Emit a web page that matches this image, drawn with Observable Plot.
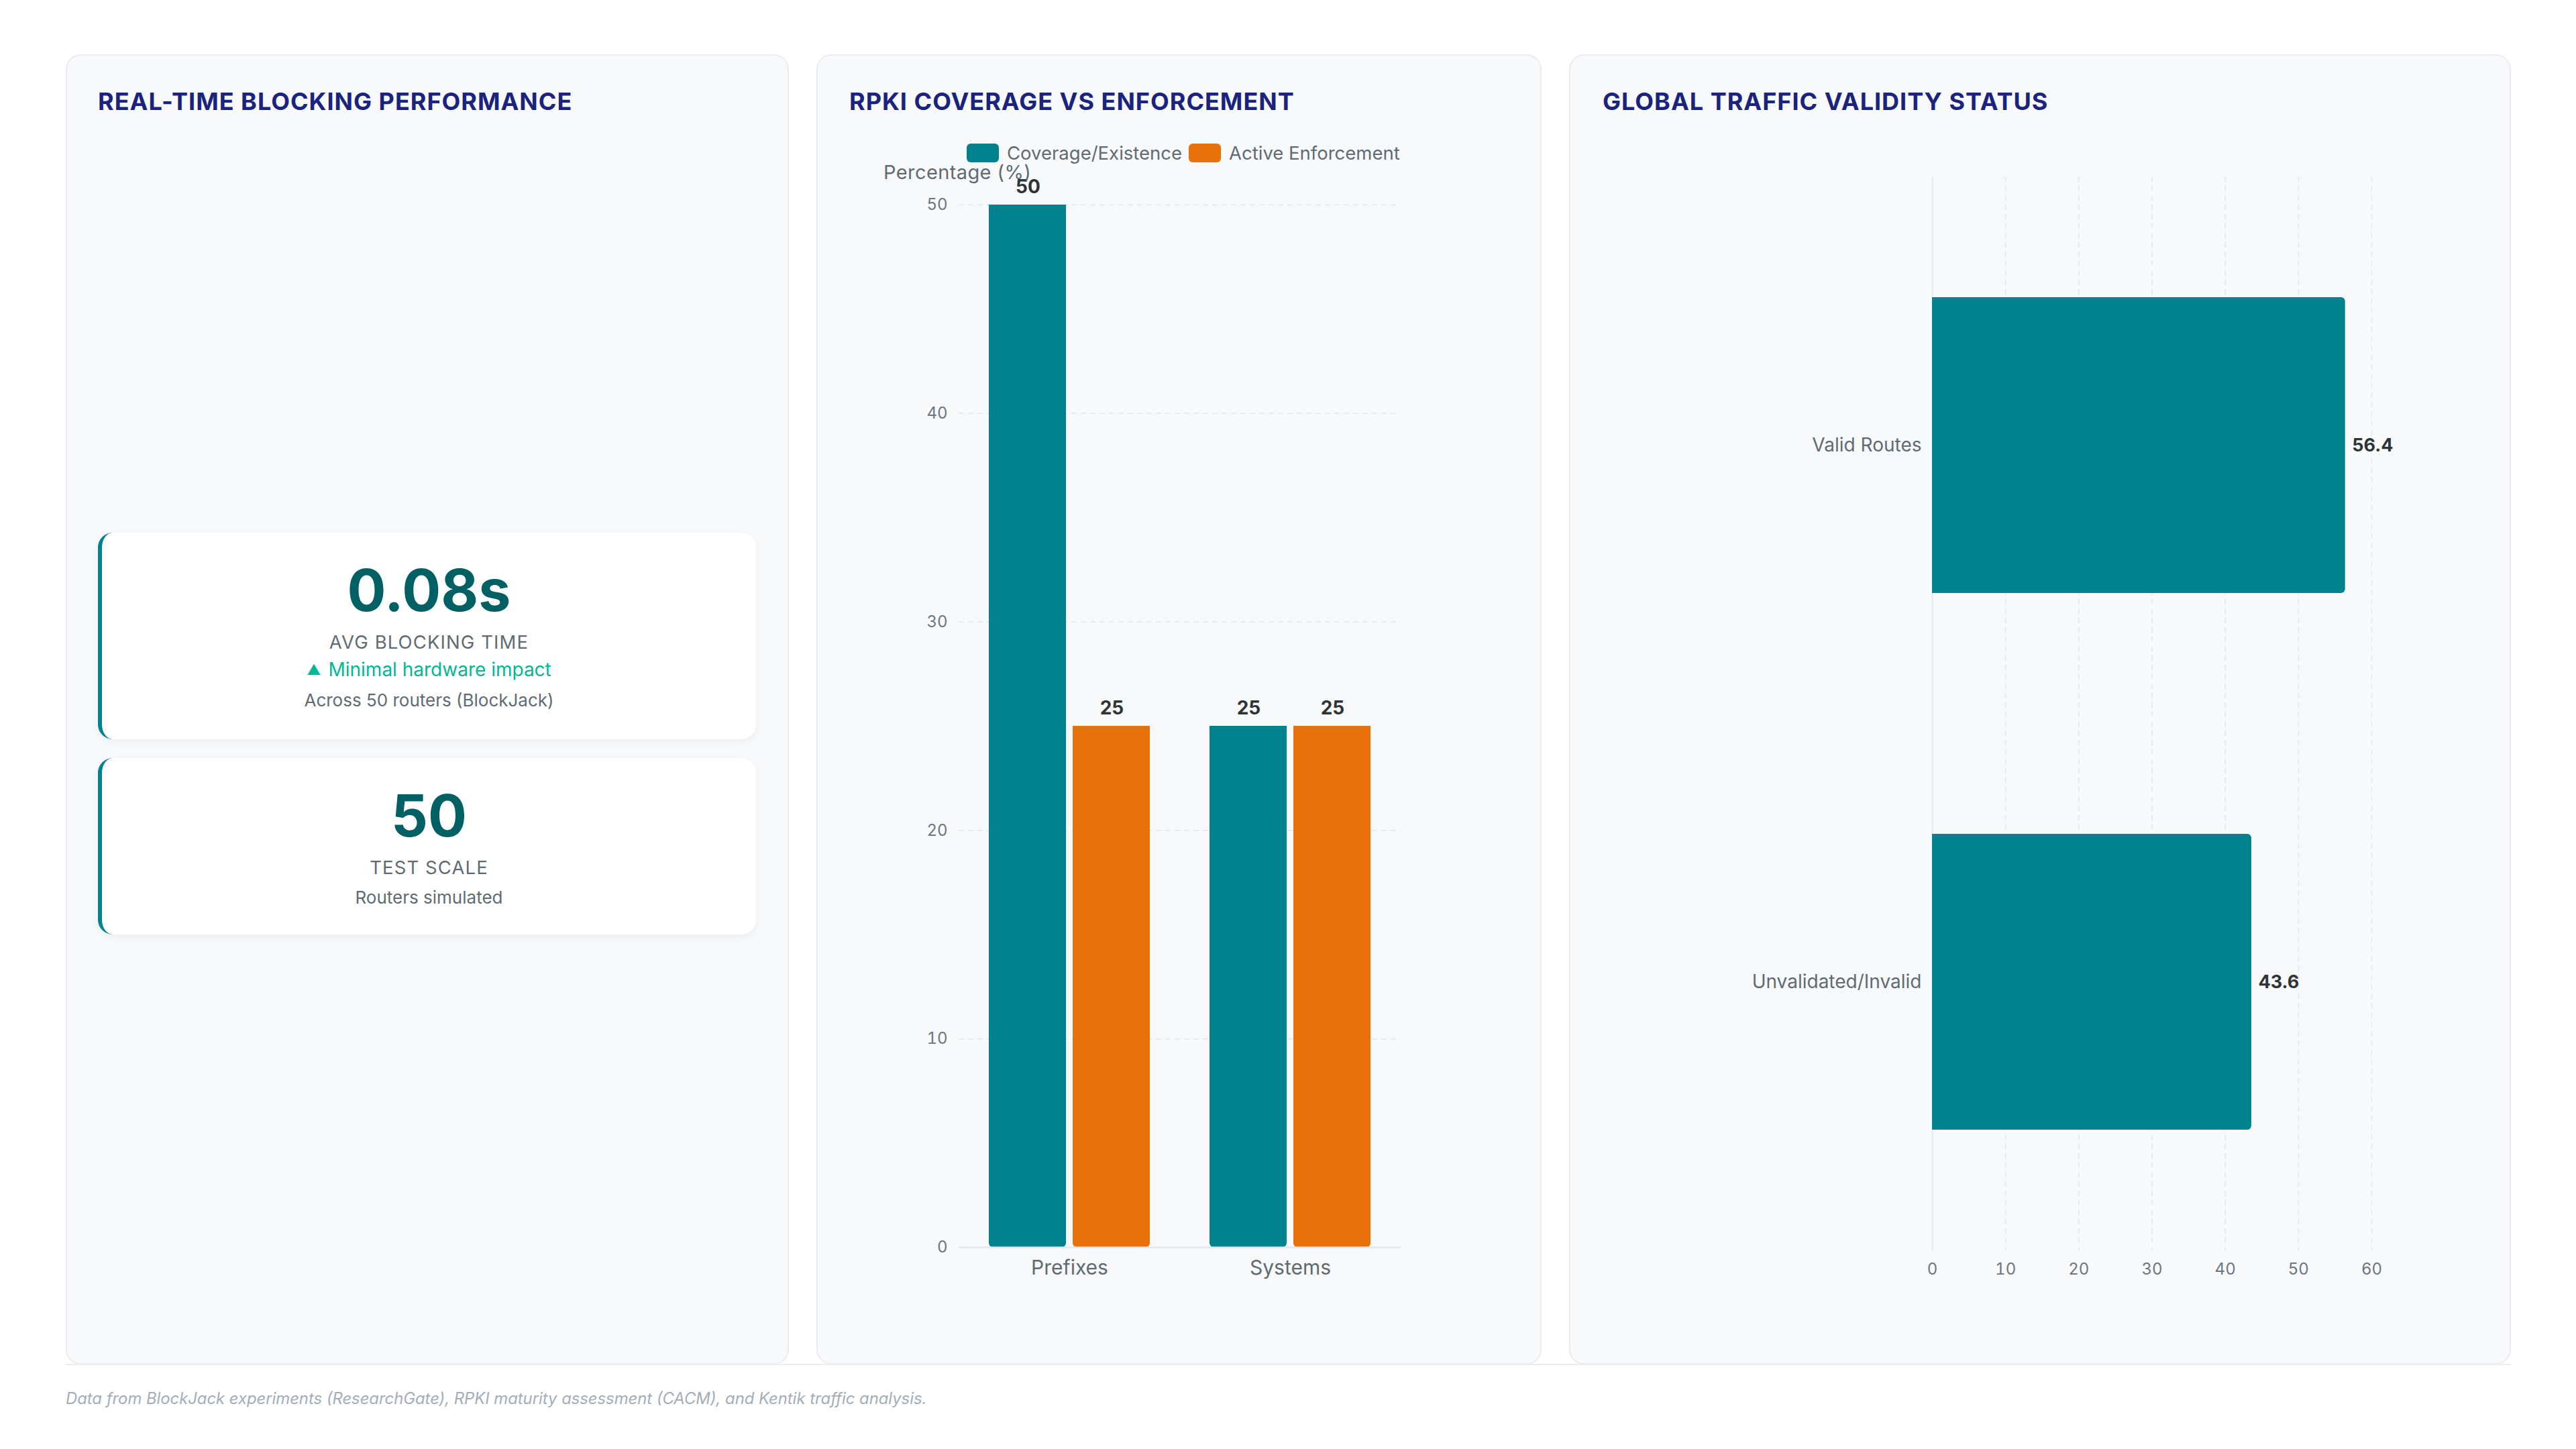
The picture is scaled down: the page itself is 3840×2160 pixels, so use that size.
<!DOCTYPE html>
<html>
<head>
<meta charset="utf-8">
<script src="https://cdn.jsdelivr.net/npm/d3@7"></script>
<script src="https://cdn.jsdelivr.net/npm/@observablehq/plot@0.6"></script>
<style>
  html, body { margin: 0; padding: 0; background: #ffffff; }
  body { width: 3840px; height: 2160px; position: relative; overflow: hidden; font-family: Inter, "Noto Sans", sans-serif; }
  .abs { position: absolute; }
  .panel { position: absolute; background: #f8f9fb; border: 2px solid #eaecef; border-radius: 22px; box-sizing: border-box; }
  .title { position: absolute; font-size: 36px; line-height: 36px; font-weight: 700; color: #1a237e; white-space: nowrap; letter-spacing: 1px; }
  .card { position: absolute; background: #ffffff; border-left: 6px solid #00838f; border-radius: 22px; box-sizing: border-box; box-shadow: 0 4px 14px rgba(0,0,0,0.05); text-align: center; }
  .kval { font-size: 86px; line-height: 86px; font-weight: 700; color: #006064; }
  .klabel { font-size: 27.5px; line-height: 36px; color: #5f6b73; text-transform: uppercase; letter-spacing: 1.1px; }
  .ktrend { font-size: 28px; line-height: 36px; color: #00b894; }
  .ktrend .tri { font-size: 21px; vertical-align: 2px; margin-right: 11px; }
  .knote { font-size: 26px; line-height: 36px; color: #5f6b73; }
  .legend { position: absolute; display: flex; align-items: center; height: 28px; font-size: 27.5px; line-height: 28px; color: #5f6b73; white-space: nowrap; }
  .sw { width: 48px; height: 28px; border-radius: 6px; display: inline-block; }
  .caption { position: absolute; font-size: 23.8px; line-height: 24px; font-style: italic; color: #a3adb8; white-space: nowrap; }
  .chart svg { overflow: visible; }
</style>
</head>
<body>
<script>
// ---------- data ----------
const panelTitles = ["REAL-TIME BLOCKING PERFORMANCE", "RPKI COVERAGE VS ENFORCEMENT", "GLOBAL TRAFFIC VALIDITY STATUS"];

const kpiValues = ["0.08s", "50"];
const kpiLabels = ["AVG BLOCKING TIME", "TEST SCALE"];
const kpiTrendMarks = ["▲", null];
const kpiTrends = ["Minimal hardware impact", null];
const kpiNotes = ["Across 50 routers (BlockJack)", "Routers simulated"];

const rpkiCategories = ["Prefixes", "Systems"];
const rpkiSeries = ["Coverage/Existence", "Active Enforcement"];
const coverageValues = [50, 25];
const enforcementValues = [25, 25];
const rpkiColors = ["#00838f", "#e8710a"];
const rpkiTicks = [0, 10, 20, 30, 40, 50];
const rpkiAxisLabel = "Percentage (%)";

const trafficCategories = ["Valid Routes", "Unvalidated/Invalid"];
const trafficValues = [56.4, 43.6];
const trafficTicks = [0, 10, 20, 30, 40, 50, 60];
const trafficColor = "#00838f";

const captionText = "Data from BlockJack experiments (ResearchGate), RPKI maturity assessment (CACM), and Kentik traffic analysis.";

// ---------- layout helpers ----------
function el(tag, cls, style, text) {
  const e = document.createElement(tag);
  if (cls) e.className = cls;
  if (style) Object.assign(e.style, style);
  if (text != null) e.textContent = text;
  document.body.appendChild(e);
  return e;
}

// panels
el("div", "panel", {left: "98px", top: "81px", width: "1078px", height: "1953px"});
el("div", "panel", {left: "1217px", top: "81px", width: "1081px", height: "1953px"});
el("div", "panel", {left: "2339px", top: "81px", width: "1404px", height: "1953px"});
el("div", "abs", {left: "98px", top: "2033px", width: "3645px", height: "2px", background: "#eaecef"});

// titles
el("div", "title", {left: "146px", top: "133px"}, panelTitles[0]);
el("div", "title", {left: "1266px", top: "133px"}, panelTitles[1]);
el("div", "title", {left: "2389px", top: "133px"}, panelTitles[2]);

// KPI cards
function card(i, top, height) {
  const c = el("div", "card", {left: "146px", top: top + "px", width: "981px", height: height + "px", paddingTop: "43px"});
  const v = document.createElement("div"); v.className = "kval"; v.textContent = kpiValues[i]; c.appendChild(v);
  const l = document.createElement("div"); l.className = "klabel"; l.textContent = kpiLabels[i]; l.style.marginTop = "16px"; c.appendChild(l);
  if (kpiTrends[i]) {
    const t = document.createElement("div"); t.className = "ktrend"; t.style.marginTop = "5px";
    const tri = document.createElement("span"); tri.className = "tri"; tri.textContent = kpiTrendMarks[i];
    const tt = document.createElement("span"); tt.textContent = kpiTrends[i];
    t.appendChild(tri); t.appendChild(tt); c.appendChild(t);
  }
  const n = document.createElement("div"); n.className = "knote"; n.textContent = kpiNotes[i]; n.style.marginTop = "9px"; c.appendChild(n);
}
card(0, 794, 308);
card(1, 1130, 263);

// RPKI legend + axis label
const lg = el("div", "legend", {left: "1441px", top: "214px"});
rpkiSeries.forEach((s, i) => {
  const sw = document.createElement("span"); sw.className = "sw"; sw.style.background = rpkiColors[i];
  sw.style.marginLeft = i === 0 ? "0px" : "10px";
  const tx = document.createElement("span"); tx.textContent = s; tx.style.marginLeft = "12px";
  lg.appendChild(sw); lg.appendChild(tx);
});
el("div", "abs", {left: "1317px", top: "242px", fontSize: "29px", lineHeight: "29px", color: "#5f6b73", whiteSpace: "nowrap", letterSpacing: "0.4px"}, rpkiAxisLabel);

// ---------- RPKI grouped bar chart ----------
const coverageRows = rpkiCategories.map((c, i) => ({category: c, series: rpkiSeries[0], value: coverageValues[i]}));
const enforcementRows = rpkiCategories.map((c, i) => ({category: c, series: rpkiSeries[1], value: enforcementValues[i]}));

const rpki = Plot.plot({
  width: 1080,
  height: 1730,
  marginLeft: 212,
  marginRight: 209,
  marginTop: 110,
  marginBottom: 66,
  style: {background: "transparent", fontFamily: "Inter, sans-serif", color: "#6b7680", overflow: "visible"},
  x: {domain: rpkiCategories, paddingInner: 0.272, paddingOuter: 0.136, label: null},
  y: {domain: [0, 50], label: null},
  marks: [
    Plot.gridY(rpkiTicks.filter(d => d > 0), {stroke: "#e3e6ea", strokeOpacity: 1, strokeWidth: 1.5, strokeDasharray: "8,6"}),
    Plot.axisY({ticks: rpkiTicks, tickSize: 0, tickPadding: 17, label: null, fontSize: 24, tickFormat: d => String(d)}),
    Plot.axisX({tickSize: 0, tickPadding: 19, fontSize: 30, label: null, fill: "#5f6b73"}),
    Plot.barY(coverageRows, {x: "category", y: "value", fill: rpkiColors[0], insetRight: 125, ry2: 6}),
    Plot.barY(enforcementRows, {x: "category", y: "value", fill: rpkiColors[1], insetLeft: 125, ry2: 6}),
    Plot.text(coverageRows, {x: "category", y: "value", text: d => String(d.value), dx: -62, dy: -26, fontSize: 28, fontWeight: 700, fill: "#2d3436"}),
    Plot.text(enforcementRows, {x: "category", y: "value", text: d => String(d.value), dx: 63, dy: -26, fontSize: 28, fontWeight: 700, fill: "#2d3436"}),
    Plot.ruleY([0], {stroke: "#e5e7eb", strokeWidth: 2.5})
  ]
});
const rpkiBox = el("div", "abs chart", {left: "1217px", top: "195px", width: "1080px", height: "1730px"});
rpkiBox.appendChild(rpki);

// ---------- Traffic horizontal bar chart ----------
const trafficRows = trafficCategories.map((c, i) => ({category: c, value: trafficValues[i]}));
const traffic = Plot.plot({
  width: 1403,
  height: 1710,
  marginLeft: 541,
  marginRight: 207,
  marginTop: 33,
  marginBottom: 76,
  style: {background: "transparent", fontFamily: "Inter, sans-serif", color: "#6b7680", overflow: "visible"},
  x: {domain: [0, 60], label: null},
  y: {domain: trafficCategories, paddingInner: 0.449, paddingOuter: 0.2245, label: null},
  marks: [
    Plot.ruleX(trafficTicks.filter(d => d > 0), {stroke: "#e3e6ea", strokeWidth: 1.5, strokeDasharray: "8,6"}),
    Plot.ruleX([0], {stroke: "#e5e7eb", strokeWidth: 2}),
    Plot.barX(trafficRows, {x: "value", y: "category", fill: trafficColor, rx2: 6}),
    Plot.text(trafficRows, {x: "value", y: "category", text: d => d.value.toFixed(1), textAnchor: "start", dx: 10, fontSize: 27, fontWeight: 700, fill: "#2d3436"}),
    Plot.axisX({ticks: trafficTicks, tickSize: 0, tickPadding: 18, label: null, fontSize: 24, tickFormat: d => String(d)}),
    Plot.axisY({tickSize: 0, tickPadding: 16, label: null, fontSize: 28, fill: "#5f6b73"})
  ]
});
const trafficBox = el("div", "abs chart", {left: "2339px", top: "230px", width: "1403px", height: "1710px"});
trafficBox.appendChild(traffic);

// caption
el("div", "caption", {left: "98px", top: "2073px"}, captionText);
</script>
</body>
</html>
